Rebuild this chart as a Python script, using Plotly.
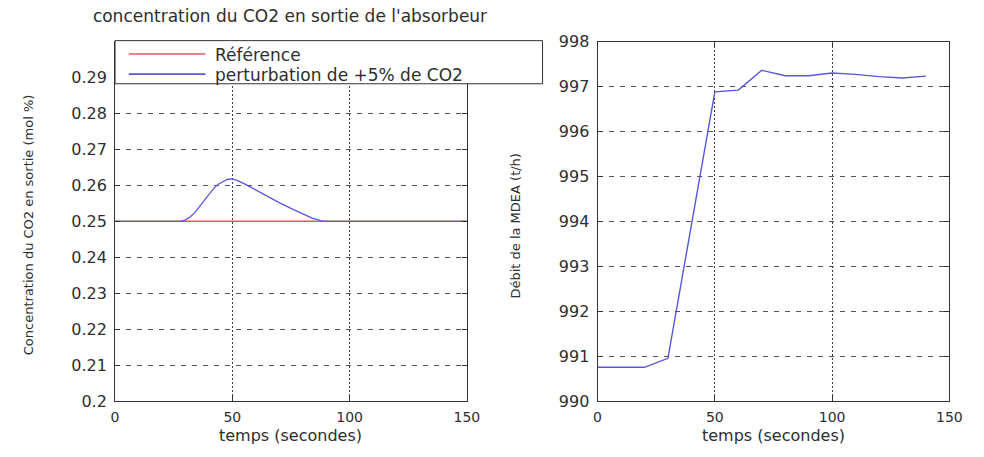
import plotly.graph_objects as go

W, H = 984, 457

# --- CO2 concentration at the absorber outlet (mol %) ---
temps_reference = [0, 150]
co2_reference = [0.25, 0.25]

temps_co2 = [0, 10, 20, 28, 30, 32, 34, 36, 38, 40, 42, 44, 46, 48, 50, 52, 55,
             58, 61, 65, 70, 75, 80, 84, 88, 90, 100, 110, 120, 130, 140, 150]
co2_perturbation = [0.25, 0.25, 0.25, 0.25, 0.2504, 0.2512, 0.2524, 0.2540,
                    0.2557, 0.2574, 0.2591, 0.2603, 0.2611, 0.2617, 0.2618,
                    0.2614, 0.2605, 0.2594, 0.2583, 0.2570, 0.2552, 0.2536,
                    0.2521, 0.2509, 0.2501, 0.25, 0.25, 0.25, 0.25, 0.25,
                    0.25, 0.25]

# --- MDEA flow rate (t/h) ---
temps_mdea = [0, 10, 20, 30, 40, 50, 60, 70, 80, 90, 100, 110, 120, 130, 140]
debit_mdea = [990.75, 990.75, 990.75, 990.95, 993.9, 996.88, 996.92, 997.36,
              997.24, 997.24, 997.30, 997.27, 997.22, 997.19, 997.23]

# --- axes ---
x_ticks = [0, 50, 100, 150]
co2_ticks = [0.20, 0.21, 0.22, 0.23, 0.24, 0.25, 0.26, 0.27, 0.28, 0.29]
co2_tick_labels = ["0.2", "0.21", "0.22", "0.23", "0.24", "0.25", "0.26",
                   "0.27", "0.28", "0.29"]
mdea_ticks = [990, 991, 992, 993, 994, 995, 996, 997, 998]

noms_series = ["Référence", "perturbation de +5% de CO2"]
couleurs = ["rgb(222,92,92)", "rgb(86,86,224)"]

FONT = "DejaVu Sans"
TEXT = "#2e2e2e"


def px(x):
    return x / W


def py(y):
    return 1 - y / H


fig = go.Figure()
fig.add_trace(go.Scatter(x=temps_reference, y=co2_reference, mode="lines",
                         name=noms_series[0], xaxis="x", yaxis="y",
                         line=dict(color=couleurs[0], width=1.4)))
fig.add_trace(go.Scatter(x=temps_co2, y=co2_perturbation, mode="lines",
                         name=noms_series[1], xaxis="x", yaxis="y",
                         line=dict(color=couleurs[1], width=1.3)))
fig.add_trace(go.Scatter(x=temps_mdea, y=debit_mdea, mode="lines",
                         name="Débit MDEA", xaxis="x2", yaxis="y2",
                         line=dict(color=couleurs[1], width=1.4)))

axe = dict(showline=True, linecolor="#333", linewidth=1, mirror="ticks",
           ticks="inside", ticklen=5, tickcolor="#333", showgrid=True,
           zeroline=False)
axe_x = dict(axe, gridcolor="#3c3c3c", griddash="2px,2px", gridwidth=1,
             range=[0, 150], tickvals=x_ticks, ticklabelstandoff=3,
             tickfont=dict(family=FONT, size=14, color=TEXT))
axe_y = dict(axe, gridcolor="#555", griddash="5px,6px", gridwidth=1,
             ticklabelstandoff=4,
             tickfont=dict(family=FONT, size=16, color=TEXT))

fig.update_layout(
    width=W, height=H, autosize=False,
    margin=dict(l=0, r=0, t=0, b=0),
    paper_bgcolor="white", plot_bgcolor="white",
    showlegend=False,
    xaxis=dict(axe_x, domain=[px(113), px(471)], anchor="y"),
    yaxis=dict(axe_y, domain=[py(409), py(34)], anchor="x",
               range=[0.2, 0.3], tickvals=co2_ticks, ticktext=co2_tick_labels),
    xaxis2=dict(axe_x, domain=[px(604), px(962)], anchor="y2"),
    yaxis2=dict(axe_y, domain=[py(409), py(34)], anchor="x2",
                range=[990, 998], tickvals=mdea_ticks),
    title=dict(text="concentration du CO2 en sortie de l'absorbeur",
               x=px(290), y=py(16), xanchor="center", yanchor="middle",
               font=dict(family=FONT, size=17, color=TEXT)),
)

# axis titles
for ref in ("x domain", "x2 domain"):
    fig.add_annotation(text="temps (secondes)", xref=ref, yref="paper",
                       x=0.5, y=py(445), showarrow=False, yanchor="middle",
                       font=dict(family=FONT, size=16, color=TEXT))
fig.add_annotation(text="Concentration du CO2 en sortie (mol %)", xref="paper",
                   yref="paper", x=px(25), y=py(225), textangle=-90,
                   showarrow=False, xanchor="center", yanchor="middle",
                   font=dict(family=FONT, size=13, color=TEXT))
fig.add_annotation(text="Débit de la MDEA (t/h)", xref="paper", yref="paper",
                   x=px(521), y=py(226), textangle=-90, showarrow=False,
                   xanchor="center", yanchor="middle",
                   font=dict(family=FONT, size=13, color=TEXT))

# legend box drawn over the top of the left panel
fig.add_shape(type="rect", xref="paper", yref="paper",
              x0=px(113), x1=px(548), y0=py(78), y1=py(33),
              line=dict(color="#333", width=1), fillcolor="white",
              layer="above")
for i, (nom, couleur) in enumerate(zip(noms_series, couleurs)):
    yy = [47, 68][i]
    fig.add_shape(type="line", xref="paper", yref="paper",
                  x0=px(127), x1=px(205), y0=py(yy), y1=py(yy),
                  line=dict(color=couleur, width=1.6), layer="above")
    fig.add_annotation(text=nom, xref="paper", yref="paper", x=px(213),
                       y=py(yy + 0.5), xanchor="left", yanchor="middle",
                       showarrow=False,
                       font=dict(family=FONT, size=17, color=TEXT))

fig.write_html("out.html")
